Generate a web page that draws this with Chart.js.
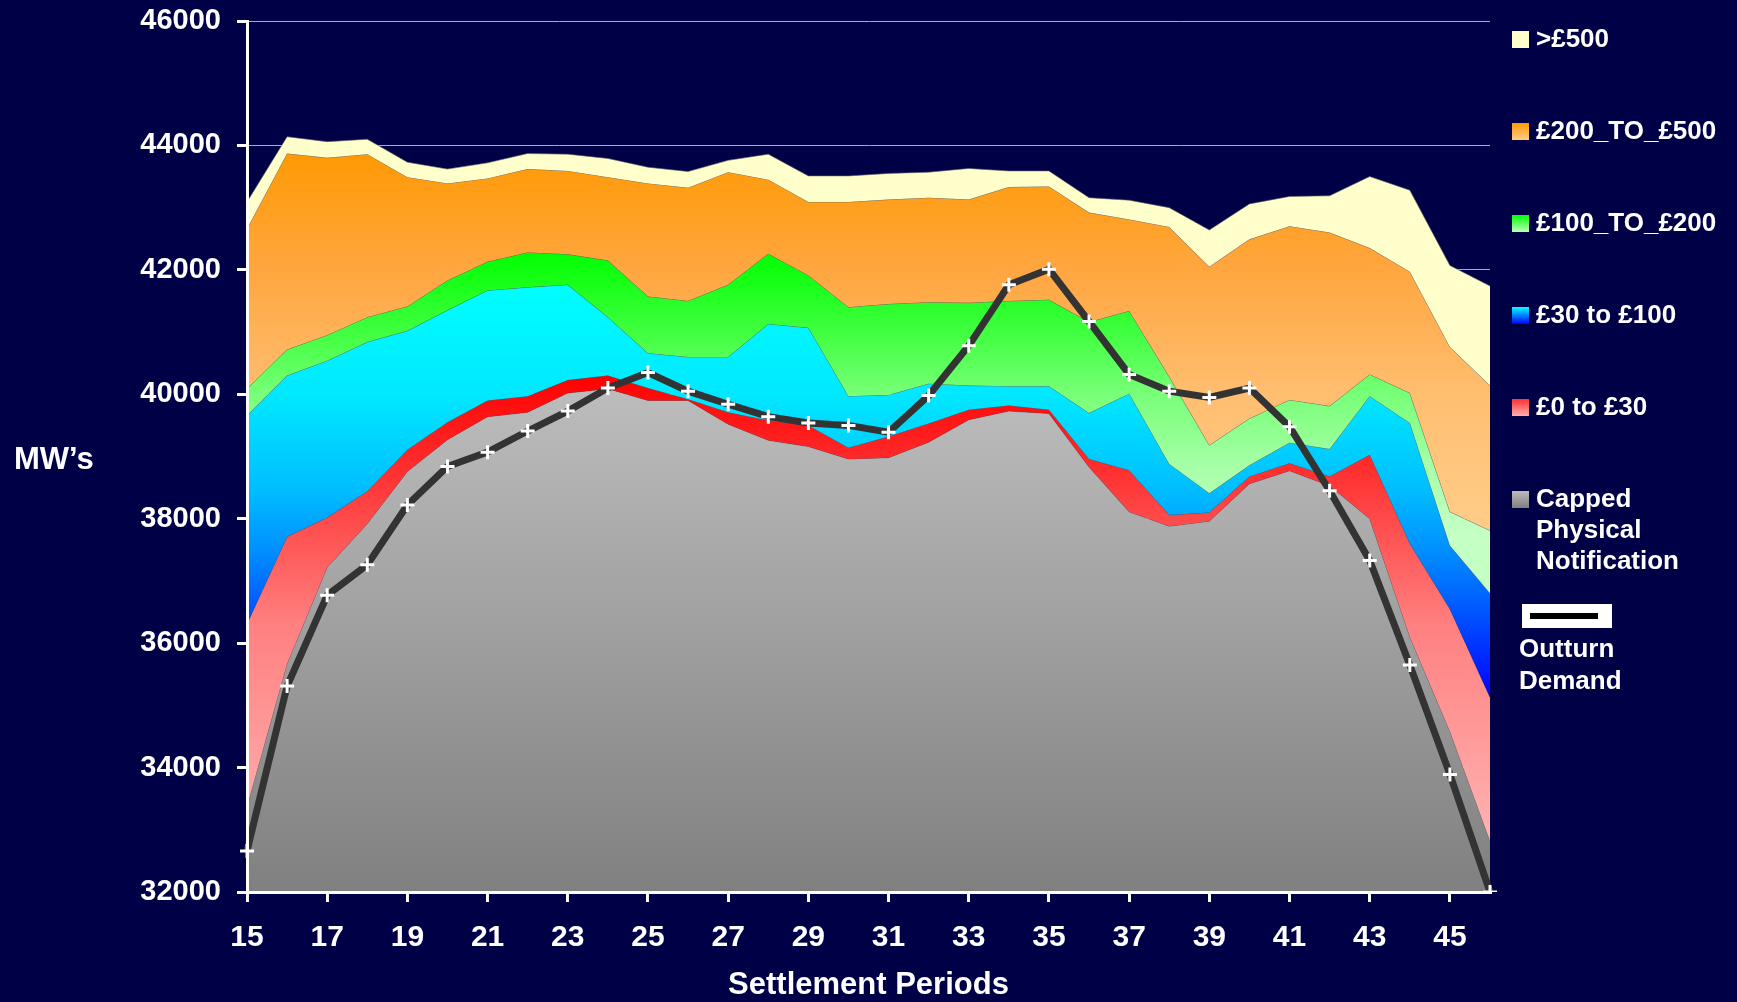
<!DOCTYPE html>
<html>
<head>
<meta charset="utf-8">
<title>Settlement Periods</title>
<script src="https://cdn.jsdelivr.net/npm/chart.js@4.4.1/dist/chart.umd.min.js"></script>
<style>
    html, body {
        margin: 0;
        padding: 0;
        background: #000046;
        overflow: hidden;
    }
    #wrap {
        position: relative;
        width: 1737px;
        height: 1002px;
    }
    #chart {
        position: absolute;
        left: 0;
        top: 0;
    }
    .txt {
        position: absolute;
        color: #ffffff;
        font-family: "Liberation Sans", Arial, sans-serif;
        font-weight: bold;
        white-space: nowrap;
    }
    #yTitle {
        left: 14px;
        top: 440px;
        font-size: 31px;
        line-height: 38px;
    }
    .legItem {
        font-size: 26px;
        line-height: 31px;
    }
    .swatch {
        position: absolute;
        width: 17px;
        height: 17px;
    }
    #demandBox {
        position: absolute;
        left: 1522px;
        top: 604px;
        width: 90px;
        height: 24px;
        background: #ffffff;
    }
    #demandBox div {
        position: absolute;
        left: 8px;
        top: 9px;
        width: 68px;
        height: 6px;
        background: #000000;
    }
</style>
</head>
<body>
<div id="wrap">
    <canvas id="chart" width="1737" height="1002"></canvas>
    <div id="yTitle" class="txt">MW’s</div>
    <div id="legend"></div>
    <div id="demandBox"><div></div></div>
    <div class="txt legItem" style="left:1519px;top:632px;line-height:32px;">Outturn<br>Demand</div>
</div>

<script>
// Periodos de liquidación (eje X)
const periods = ['15', '16', '17', '18', '19', '20', '21', '22', '23', '24', '25', '26', '27', '28', '29', '30',
                 '31', '32', '33', '34', '35', '36', '37', '38', '39', '40', '41', '42', '43', '44', '45', '46'];

// Nivel superior (MW acumulado) de cada banda
const cappedPN = [33380, 35670, 37220, 37920, 38760, 39270, 39640, 39710, 40020, 40090, 39900, 39900, 39520, 39260, 39160, 38960,
                  38980, 39230, 39590, 39730, 39690, 38830, 38110, 37880, 37960, 38560, 38770, 38530, 38000, 36100, 34580, 32820];
const band0to30 = [36310, 37710, 38020, 38440, 39110, 39550, 39900, 39970, 40230, 40300, 40100, 39920, 39710, 39580, 39500, 39140,
                   39320, 39530, 39750, 39820, 39750, 38960, 38780, 38060, 38100, 38680, 38890, 38680, 39030, 37600, 36550, 35130];
const band30to100 = [39660, 40300, 40540, 40840, 41020, 41350, 41670, 41720, 41760, 41240, 40660, 40600, 40600, 41130, 41070, 39970,
                     39990, 40170, 40140, 40130, 40130, 39700, 40010, 38880, 38410, 38860, 39220, 39120, 39970, 39540, 37570, 36800];
const band100to200 = [40090, 40720, 40950, 41240, 41410, 41830, 42130, 42280, 42250, 42150, 41570, 41500, 41760, 42260, 41910, 41400,
                      41450, 41480, 41470, 41500, 41520, 41160, 41340, 40280, 39180, 39610, 39910, 39810, 40320, 40020, 38110, 37810];
const band200to500 = [42660, 43870, 43800, 43860, 43490, 43390, 43470, 43620, 43590, 43490, 43390, 43320, 43570, 43450, 43090, 43090,
                      43130, 43160, 43130, 43330, 43340, 42920, 42810, 42690, 42050, 42490, 42700, 42600, 42350, 41970, 40760, 40140];
const bandOver500 = [43090, 44140, 44060, 44100, 43730, 43620, 43720, 43870, 43860, 43790, 43650, 43580, 43760, 43860, 43510, 43510,
                     43550, 43570, 43630, 43590, 43590, 43160, 43120, 43000, 42640, 43060, 43180, 43190, 43500, 43280, 42070, 41740];

// Demanda real (línea negra)
const outturnDemand = [32660, 35310, 36770, 37260, 38220, 38840, 39070, 39410, 39730, 40100, 40350, 40050, 39840, 39640, 39540, 39500,
                       39390, 39980, 40780, 41760, 42010, 41170, 40320, 40050, 39950, 40100, 39480, 38450, 37330, 35650, 33890, 32000];

// Ticks del eje Y
const yMin = 32000;
const yMax = 46000;
const yStep = 2000;

const fontFamily = '"Liberation Sans", Arial, sans-serif';

// Degradado vertical según valores del eje Y
function valueGradient(stops) {
    return (context) => {
        const chart = context.chart;
        const { ctx, chartArea, scales } = chart;
        if (!chartArea || !scales.y) return stops[0][1];
        const y = scales.y;
        const p0 = y.getPixelForValue(stops[0][0]);
        const p1 = y.getPixelForValue(stops[stops.length - 1][0]);
        const g = ctx.createLinearGradient(0, p0, 0, p1);
        stops.forEach(([v, c]) => {
            const t = (y.getPixelForValue(v) - p0) / (p1 - p0);
            g.addColorStop(Math.min(1, Math.max(0, t)), c);
        });
        return g;
    };
}

const styles = {
    over500: { fill: '#FFFFCC', swatch: 'linear-gradient(#FFFFCC, #FFFFCC)' },
    s200: {
        fill: valueGradient([[44000, '#FF9900'], [42000, '#FFA640'], [40000, '#FFBE70'], [38000, '#FFCC88']]),
        swatch: 'linear-gradient(#FF9900, #FFCC88)'
    },
    s100: {
        fill: valueGradient([[42300, '#00FF00'], [41000, '#40FF40'], [40000, '#78FF78'], [38800, '#A8FFA8'], [37800, '#C4FFC4']]),
        swatch: 'linear-gradient(#00FF00, #C0FFC0)'
    },
    s30: {
        fill: valueGradient([[41800, '#00FFFF'], [40000, '#00E8FF'], [38500, '#00BFFF'], [37500, '#0090FF'], [36500, '#0055FF'], [35100, '#0000FF']]),
        swatch: 'linear-gradient(#00FFFF, #0000FF)'
    },
    s0: {
        fill: valueGradient([[40300, '#FF0000'], [39000, '#FF2828'], [38000, '#FF4A4A'], [36300, '#FF8080'], [33000, '#FFB0B0']]),
        swatch: 'linear-gradient(#FF3030, #FFB0B0)'
    },
    pn: {
        fill: valueGradient([[40300, '#BEBEBE'], [32000, '#808080']]),
        swatch: 'linear-gradient(#BBBBBB, #808080)'
    }
};

function areaDataset(label, data, style, fill) {
    return {
        label: label,
        data: data,
        backgroundColor: style.fill,
        borderColor: 'rgba(100, 100, 100, 0.6)',
        borderWidth: 1,
        pointRadius: 0,
        tension: 0,
        fill: fill
    };
}

const areas = [
    { label: '>£500', data: bandOver500, style: styles.over500 },
    { label: '£200_TO_£500', data: band200to500, style: styles.s200 },
    { label: '£100_TO_£200', data: band100to200, style: styles.s100 },
    { label: '£30 to £100', data: band30to100, style: styles.s30 },
    { label: '£0 to £30', data: band0to30, style: styles.s0 },
    { label: 'Capped Physical Notification', data: cappedPN, style: styles.pn }
];

const datasets = [
    {
        label: 'Outturn Demand',
        data: outturnDemand,
        borderColor: '#333333',
        borderWidth: 7,
        pointStyle: 'cross',
        pointRadius: 7,
        pointBorderColor: '#ffffff',
        pointBorderWidth: 3,
        tension: 0,
        fill: false
    }
];
areas.forEach((a, i) => {
    datasets.push(areaDataset(a.label, a.data, a.style, i === areas.length - 1 ? 'start' : '+1'));
});

new Chart(document.getElementById('chart').getContext('2d'), {
    type: 'line',
    data: { labels: periods, datasets: datasets },
    options: {
        responsive: false,
        animation: false,
        devicePixelRatio: 1,
        layout: { padding: { left: 0, top: 21, right: 247, bottom: 0 } },
        plugins: {
            legend: { display: false },
            tooltip: { enabled: false }
        },
        scales: {
            x: {
                type: 'category',
                offset: false,
                grid: {
                    drawOnChartArea: false,
                    drawTicks: true,
                    tickLength: 10,
                    color: '#ffffff',
                    lineWidth: 3
                },
                border: { display: true, color: '#ffffff', width: 3, z: 1 },
                ticks: {
                    color: '#ffffff',
                    font: { family: fontFamily, size: 30, weight: 'bold' },
                    padding: 18,
                    autoSkip: false,
                    maxRotation: 0,
                    callback: (value, index) => (index % 2 === 0 ? periods[index] : null)
                },
                title: {
                    display: true,
                    text: 'Settlement Periods',
                    color: '#ffffff',
                    font: { family: fontFamily, size: 31, weight: 'bold', lineHeight: 1 },
                    padding: { top: 0, bottom: 1 }
                },
                afterFit: (scale) => { scale.height = 110; }
            },
            y: {
                min: yMin,
                max: yMax,
                grid: {
                    color: '#A8A8D8',
                    lineWidth: 1,
                    drawTicks: true,
                    tickLength: 10,
                    tickColor: '#ffffff',
                    tickWidth: 3
                },
                border: { display: true, color: '#ffffff', width: 3, z: 1 },
                ticks: {
                    stepSize: yStep,
                    color: '#ffffff',
                    font: { family: fontFamily, size: 29, weight: 'bold' },
                    padding: 16,
                    callback: (value) => String(value)
                },
                afterFit: (scale) => {
                    scale.width = 247;
                    scale.paddingTop = 0;
                    scale.paddingBottom = 0;
                }
            }
        }
    }
});

// Leyenda en HTML (cuadros con degradado)
const legend = document.getElementById('legend');
const legendLines = [['>£500'], ['£200_TO_£500'], ['£100_TO_£200'], ['£30 to £100'], ['£0 to £30'], ['Capped', 'Physical', 'Notification']];
legendLines.forEach((lines, i) => {
    const center = 39 + i * 92;
    const sw = document.createElement('div');
    sw.className = 'swatch';
    sw.style.left = '1512px';
    sw.style.top = (center - 8) + 'px';
    sw.style.background = areas[i].style.swatch;
    legend.appendChild(sw);

    const t = document.createElement('div');
    t.className = 'txt legItem';
    t.style.left = '1536px';
    t.style.top = (center - 16) + 'px';
    t.innerHTML = lines.join('<br>');
    legend.appendChild(t);
});
</script>
</body>
</html>
